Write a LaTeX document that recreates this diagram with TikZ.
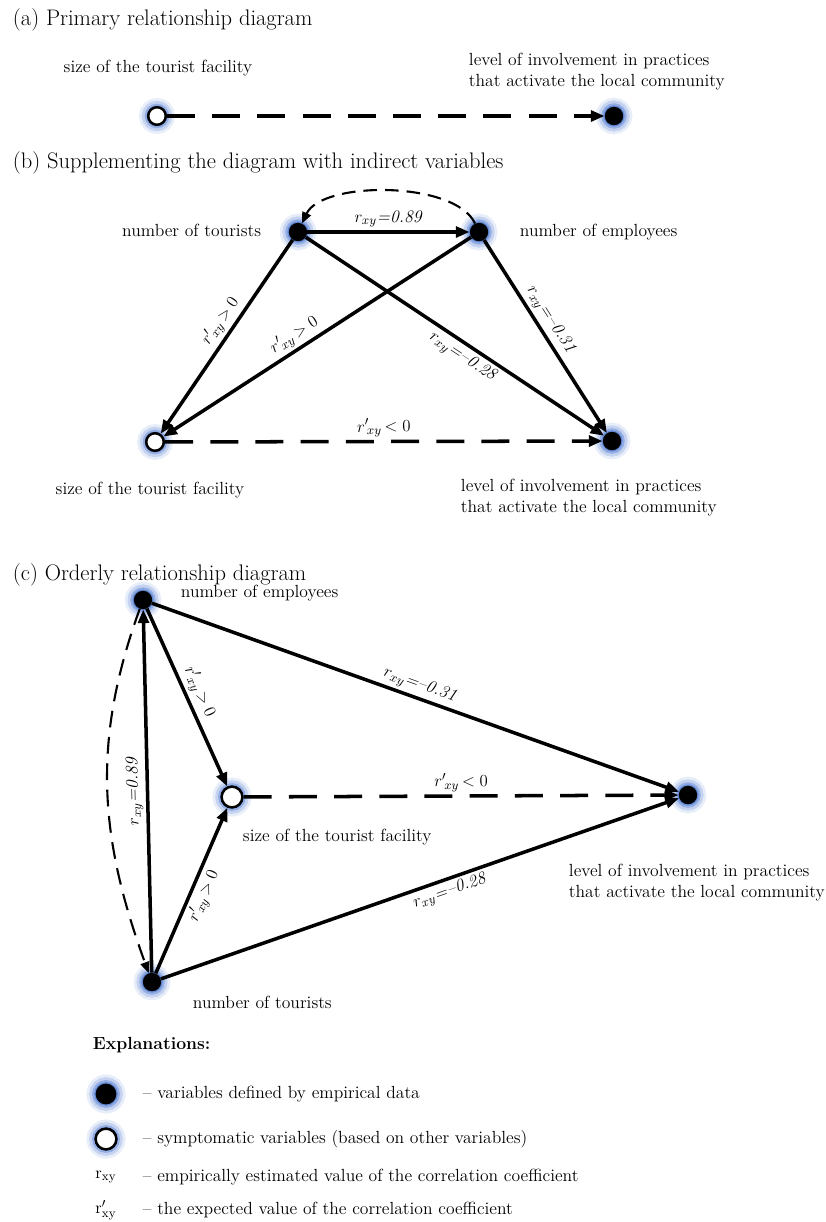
\documentclass[tikz,border=0pt]{standalone}
\usepackage{amsmath}
\usetikzlibrary{arrows.meta}

\definecolor{glowblue}{RGB}{62,110,205}
\tikzset{
  glow/.style={preaction={draw=glowblue!12,line width=13pt},
               preaction={draw=glowblue!30,line width=9pt},
               preaction={draw=glowblue!55,line width=5pt},
               preaction={draw=glowblue!80,line width=2pt}},
  datavar/.style={circle,fill=black,minimum size=4.6mm,inner sep=0pt,glow},
  sympvar/.style={circle,draw=black,fill=white,line width=1.8pt,minimum size=4.4mm,inner sep=0pt,glow},
  effect/.style={line width=2.5pt,-{Triangle[length=3.4mm,width=2.7mm]}},
  hypo/.style={effect,dash pattern=on 7mm off 4.3mm},
  feedback/.style={line width=1.5pt,dash pattern=on 3.4mm off 2mm,-{Triangle[length=2.8mm,width=2.3mm]}},
  lbl/.style={font=\fontsize{12.5}{15}\selectfont},
  ttl/.style={font=\fontsize{16}{19}\selectfont,anchor=west},
  coef/.style={font=\fontsize{12.5}{14}\selectfont,sloped,inner sep=2pt},
}
\newcommand{\rr}{$r_{xy}$}
\newcommand{\rp}{$r'{}_{\!xy}$}

\begin{document}
\begin{tikzpicture}[x=0.25mm,y=0.25mm]
\useasboundingbox (0,0) rectangle (826,-1222);

% (a) primary diagram
\node[ttl] (title-a) at (8,-20) {(a) Primary relationship diagram};
\node[sympvar] (fa) at (157,-116) {};
\node[datavar] (la) at (614,-116) {};
\node[lbl] (fa-txt) at (158,-68) {size of the tourist facility};
\node[lbl,align=left,anchor=west] (la-txt) at (464,-72) {level of involvement in practices\\that activate the local community};
\draw[hypo] (fa) -- (la);

% (b) with indirect variables
\node[ttl] (title-b) at (8,-163) {(b) Supplementing the diagram with indirect variables};
\node[datavar] (tb) at (298,-232) {};
\node[datavar] (eb) at (479,-232) {};
\node[sympvar] (fb) at (155,-442) {};
\node[datavar] (lb) at (612,-441) {};
\node[lbl,anchor=east] (tb-txt) at (266,-230) {number of tourists};
\node[lbl,anchor=west] (eb-txt) at (515,-232) {number of employees};
\node[lbl] (fb-txt) at (150,-490) {size of the tourist facility};
\node[lbl,align=left,anchor=west] (lb-txt) at (456,-498) {level of involvement in practices\\that activate the local community};
\draw[effect] (tb) -- node[coef,above] {\rr\textit{=0.89}} (eb);
\draw[feedback] (eb) to[out=115,in=65,looseness=0.7] (tb);
\draw[effect] (tb) -- node[coef,above,pos=0.46] {\rp$\,>0$} (fb);
\draw[effect] (eb) -- node[coef,above,pos=0.55] {\rp$\,>0$} (fb);
\draw[effect] (tb) -- node[coef,below,pos=0.55] {\rr\textit{=--0.28}} (lb);
\draw[effect] (eb) -- node[coef,above,pos=0.45] {\rr\textit{=--0.31}} (lb);
\draw[hypo] (fb) -- node[coef,above] {\rp$\,<0$} (lb);

% (c) ordered diagram
\node[ttl] (title-c) at (8,-575) {(c) Orderly relationship diagram};
\node[datavar] (ec) at (143,-600) {};
\node[sympvar,minimum size=5.2mm] (fc) at (232,-797) {};
\node[datavar] (lc) at (688,-795) {};
\node[datavar] (tc) at (152,-982) {};
\node[lbl,anchor=west] (ec-txt) at (176,-593) {number of employees};
\node[lbl,anchor=west] (fc-txt) at (238,-837) {size of the tourist facility};
\node[lbl,align=left,anchor=west] (lc-txt) at (564,-883) {level of involvement in practices\\that activate the local community};
\node[lbl,anchor=west] (tc-txt) at (188,-1002) {number of tourists};
\draw[effect] (tc) -- node[coef,allow upside down,above] {\rr\textit{=0.89}} (ec);
\draw[feedback,dash pattern=on 4.2mm off 2.4mm] (ec) to[out=250,in=110] (tc);
\draw[effect] (ec) -- node[coef,above,pos=0.5] {\rp$\,>0$} (fc);
\draw[effect] (tc) -- node[coef,below,pos=0.5] {\rp$\,>0$} (fc);
\draw[effect] (ec) -- node[coef,above] {\rr\textit{=--0.31}} (lc);
\draw[effect] (tc) -- node[coef,below,pos=0.55] {\rr\textit{=--0.28}} (lc);
\draw[hypo] (fc) -- node[coef,above] {\rp$\,<0$} (lc);

% explanations
\node[font=\fontsize{12.5}{15}\selectfont\bfseries,anchor=west] (key-title) at (88,-1045) {Explanations:};
\node[datavar,minimum size=5.2mm] (key-data) at (106,-1094) {};
\node[lbl,anchor=west] (key-data-txt) at (138,-1094) {-- variables defined by empirical data};
\node[sympvar,minimum size=5.2mm] (key-symp) at (106,-1139) {};
\node[lbl,anchor=west] (key-symp-txt) at (138,-1139) {-- symptomatic variables (based on other variables)};
\node[lbl] (key-r) at (106,-1177) {$\mathrm{r}_{\mathrm{xy}}$};
\node[lbl,anchor=west] (key-r-txt) at (138,-1177) {-- empirically estimated value of the correlation coefficient};
\node[lbl] (key-rp) at (106,-1210) {$\mathrm{r}'_{\mathrm{xy}}$};
\node[lbl,anchor=west] (key-rp-txt) at (138,-1210) {-- the expected value of the correlation coefficient};
\end{tikzpicture}
\end{document}
